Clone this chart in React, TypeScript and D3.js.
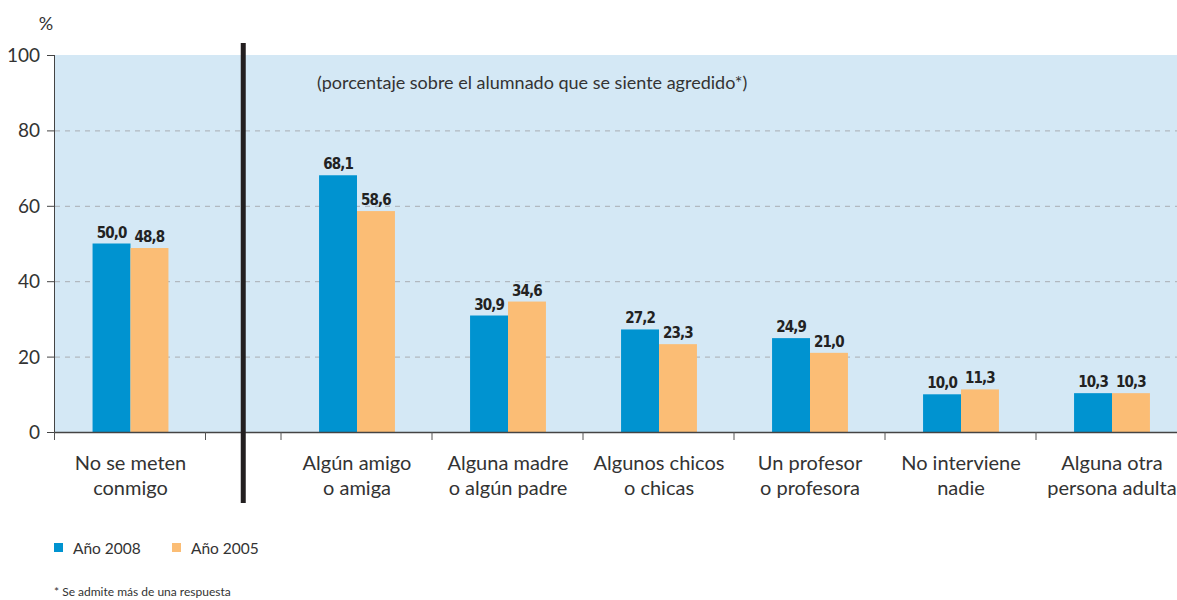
import React, { useEffect, useRef } from 'react'
import * as d3 from 'd3'

const categories = [
  ['No se meten', 'conmigo'],
  ['Algún amigo', 'o amiga'],
  ['Alguna madre', 'o algún padre'],
  ['Algunos chicos', 'o chicas'],
  ['Un profesor', 'o profesora'],
  ['No interviene', 'nadie'],
  ['Alguna otra', 'persona adulta']
]
const values2008 = [50.0, 68.1, 30.9, 27.2, 24.9, 10.0, 10.3]
const values2005 = [48.8, 58.6, 34.6, 23.3, 21.0, 11.3, 10.3]
const seriesNames = ['Año 2008', 'Año 2005']
const yTicks = [0, 20, 40, 60, 80, 100]
const note = '(porcentaje sobre el alumnado que se siente agredido*)'
const footnote = '* Se admite más de una respuesta'

const TEXT_FONT = 'Lato, "Open Sans", sans-serif'
const VALUE_FONT = '"DejaVu Sans Condensed", "DejaVu Sans", sans-serif'

const App = () => {
  const ref = useRef<SVGSVGElement>(null)

  useEffect(() => {
    const width = 1177
    const left = 55
    const top = 55
    const bottom = 432
    const step = 151
    const colors = ['#0093d0', '#fbbd75']

    const svg = d3.select(ref.current)
    svg.selectAll('*').remove()

    // slot positions: first group, half-slot gap, then the rest
    const slotOf = (i: number) => (i === 0 ? 0 : i + 0.5)
    const x = d3.scaleLinear().domain([0, 7.5]).range([left, left + 7.5 * step])
    const y = d3.scaleLinear().domain([0, 100]).range([bottom, top])
    const inner = d3
      .scaleBand()
      .domain(seriesNames)
      .range([0, step])
      .paddingInner(0)
      .paddingOuter(0.99)

    // background
    svg
      .append('rect')
      .attr('x', left)
      .attr('y', top)
      .attr('width', width - left)
      .attr('height', bottom - top)
      .attr('fill', '#d4e8f5')

    // grid
    svg
      .append('g')
      .selectAll('line')
      .data(yTicks.filter((t) => t > 0 && t < 100))
      .enter()
      .append('line')
      .attr('x1', left)
      .attr('x2', width)
      .attr('y1', (d) => y(d) + 0.5)
      .attr('y2', (d) => y(d) + 0.5)
      .attr('stroke', '#a9adb3')
      .attr('stroke-width', 1)
      .attr('stroke-dasharray', '5,5')

    // bars
    const series = [values2008, values2005]
    series.forEach((vals, s) => {
      const g = svg.append('g')
      g.selectAll('rect')
        .data(vals)
        .enter()
        .append('rect')
        .attr('x', (d, i) => x(slotOf(i)) + (inner(seriesNames[s]) as number))
        .attr('y', (d) => y(d))
        .attr('width', inner.bandwidth())
        .attr('height', (d) => bottom - y(d))
        .attr('fill', colors[s])
      g.selectAll('text')
        .data(vals)
        .enter()
        .append('text')
        .attr('x', (d, i) => x(slotOf(i)) + (inner(seriesNames[s]) as number) + inner.bandwidth() / 2)
        .attr('y', (d) => y(d) - 6)
        .attr('text-anchor', 'middle')
        .attr('font-family', VALUE_FONT)
        .attr('font-weight', 'bold')
        .attr('font-size', 15)
        .attr('letter-spacing', -0.9)
        .attr('fill', '#222')
        .text((d) => d3.format('.1f')(d).replace('.', ','))
    })

    // y axis
    svg
      .append('line')
      .attr('x1', left - 0.5)
      .attr('x2', left - 0.5)
      .attr('y1', top)
      .attr('y2', bottom)
      .attr('stroke', '#444')
    const yt = svg.append('g')
    yt.selectAll('line')
      .data(yTicks)
      .enter()
      .append('line')
      .attr('x1', left - 8)
      .attr('x2', left)
      .attr('y1', (d) => y(d) + 0.5)
      .attr('y2', (d) => y(d) + 0.5)
      .attr('stroke', '#444')
    yt.selectAll('text')
      .data(yTicks)
      .enter()
      .append('text')
      .attr('x', left - 15)
      .attr('y', (d) => y(d) + 7)
      .attr('text-anchor', 'end')
      .attr('font-family', TEXT_FONT)
      .attr('font-size', 19)
      .attr('fill', '#333')
      .text((d) => d)
    svg
      .append('text')
      .attr('x', 46)
      .attr('y', 30)
      .attr('text-anchor', 'middle')
      .attr('font-family', TEXT_FONT)
      .attr('font-size', 18)
      .attr('fill', '#333')
      .text('%')

    // x axis
    svg
      .append('line')
      .attr('x1', left - 1)
      .attr('x2', width)
      .attr('y1', bottom + 0.5)
      .attr('y2', bottom + 0.5)
      .attr('stroke', '#444')
      .attr('stroke-width', 1.5)
    const xTicks = [0, 1].concat(categories.slice(1).map((c, i) => slotOf(i + 1)))
    svg
      .append('g')
      .selectAll('line')
      .data(xTicks)
      .enter()
      .append('line')
      .attr('x1', (d) => x(d) - 0.5)
      .attr('x2', (d) => x(d) - 0.5)
      .attr('y1', bottom)
      .attr('y2', bottom + 8)
      .attr('stroke', '#555')

    // category labels
    const cl = svg
      .append('g')
      .selectAll('text')
      .data(categories)
      .enter()
      .append('text')
      .attr('text-anchor', 'middle')
      .attr('font-family', TEXT_FONT)
      .attr('font-size', 20)
      .attr('fill', '#333')
    cl.each(function (d, i) {
      const t = d3.select(this)
      d.forEach((line, k) => {
        t.append('tspan')
          .attr('x', x(slotOf(i)) + step / 2)
          .attr('y', 470 + k * 25)
          .text(line)
      })
    })

    // separator
    svg
      .append('rect')
      .attr('x', x(1.25) - 3)
      .attr('y', 43)
      .attr('width', 5)
      .attr('height', 460)
      .attr('fill', '#231f20')

    // note
    svg
      .append('text')
      .attr('x', 317)
      .attr('y', 89)
      .attr('font-family', TEXT_FONT)
      .attr('font-size', 18)
      .attr('fill', '#333')
      .text(note)

    // legend
    const lg = svg.append('g')
    const legendX = [54, 172]
    seriesNames.forEach((name, s) => {
      lg.append('rect')
        .attr('x', legendX[s])
        .attr('y', 543)
        .attr('width', 9)
        .attr('height', 9)
        .attr('fill', colors[s])
      lg.append('text')
        .attr('x', legendX[s] + 19)
        .attr('y', 554)
        .attr('font-family', TEXT_FONT)
        .attr('font-size', 15.5)
        .attr('fill', '#333')
        .text(name)
    })

    svg
      .append('text')
      .attr('x', 54)
      .attr('y', 596)
      .attr('font-family', TEXT_FONT)
      .attr('font-size', 12)
      .attr('fill', '#333')
      .text(footnote)
  }, [])

  return (
    <svg
      ref={ref}
      width={1177}
      height={600}
      style={{ position: 'absolute', left: 0, top: 0, background: '#fff' }}
    />
  )
}

export default App
